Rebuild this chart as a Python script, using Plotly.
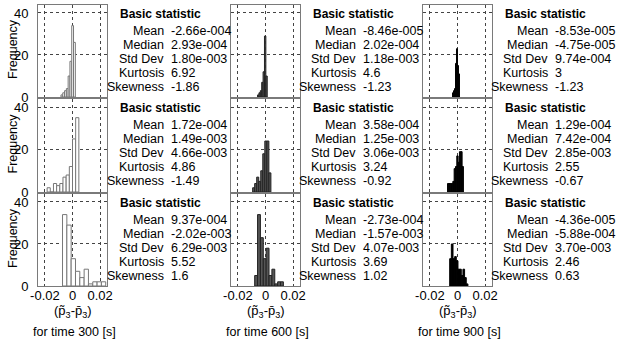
import plotly.graph_objects as go

W, H = 630, 349

# ---------------- data ----------------
times = [300, 600, 900]
stat_names = ["Mean", "Median", "Std Dev", "Kurtosis", "Skewness"]

# column 1 (t = 300 s)
c1r1_x = [-0.0077, -0.0064, -0.0051, -0.0038, -0.0025, -0.0012, 0.0001, 0.0014]
c1r1_n = [1, 2, 3, 4, 10, 17, 34, 26]
c1r1_w = 0.0013
c1r2_x = [-0.01725, -0.01495, -0.01265, -0.01035, -0.00805, -0.00575, -0.00345, -0.00115, 0.00115, 0.00345]
c1r2_n = [2, 0, 4, 3, 4, 7, 8, 12, 25, 35]
c1r2_w = 0.0023
c1r3_x = [-0.00566, -0.00253, 0.0006, 0.00373, 0.00686, 0.00999, 0.01312, 0.01625, 0.01938, 0.02251]
c1r3_n = [34, 29, 13, 7, 4, 8, 1, 2, 2, 2]
c1r3_w = 0.00313

# column 2 (t = 600 s)
c2r1_x = [-0.00525, -0.00425, -0.00325, -0.00225, -0.00125, -0.00025, 0.00075]
c2r1_n = [1, 2, 3, 7, 12, 29, 10]
c2r1_w = 0.001
c2r2_x = [-0.00858, -0.00711, -0.00564, -0.00417, -0.0027, -0.00123, 0.00024, 0.00171, 0.00318]
c2r2_n = [2, 4, 7, 5, 10, 18, 24, 24, 9]
c2r2_w = 0.00147
c2r3_x = [-0.0068, -0.00472, -0.00264, -0.00056, 0.00152, 0.0036, 0.00568, 0.00776, 0.00984, 0.01192]
c2r3_n = [5, 34, 23, 13, 18, 5, 8, 1, 2, 2]
c2r3_w = 0.00208

# column 3 (t = 900 s)
c3r1_x = [-0.00325, -0.00253, -0.00181, -0.00109, -0.00037, 0.00035, 0.00107]
c3r1_n = [2, 3, 4, 16, 23, 15, 11]
c3r1_w = 0.00072
c3r2_x = [-0.00675, -0.00579, -0.00483, -0.00387, -0.00291, -0.00195, -0.00099, -0.00003, 0.00093, 0.00189, 0.00285, 0.00381]
c3r2_n = [4, 4, 4, 4, 5, 11, 12, 17, 14, 19, 19, 12]
c3r2_w = 0.00096
c3r3_x = [-0.00506, -0.00386, -0.00266, -0.00146, -0.00026, 0.00094, 0.00214, 0.00334, 0.00454, 0.00574, 0.00694]
c3r3_n = [13, 20, 13, 14, 12, 8, 8, 5, 8, 4, 1]
c3r3_w = 0.0012

stats = [
    [["-2.66e-004", "2.93e-004", "1.80e-003", "6.92", "-1.86"],
     ["1.72e-004", "1.49e-003", "4.66e-003", "4.86", "-1.49"],
     ["9.37e-004", "-2.02e-003", "6.29e-003", "5.52", "1.6"]],
    [["-8.46e-005", "2.02e-004", "1.18e-003", "4.6", "-1.23"],
     ["3.58e-004", "1.25e-003", "3.06e-003", "3.24", "-0.92"],
     ["-2.73e-004", "-1.57e-003", "4.07e-003", "3.69", "1.02"]],
    [["-8.53e-005", "-4.75e-005", "9.74e-004", "3", "-1.23"],
     ["1.29e-004", "7.42e-004", "2.85e-003", "2.55", "-0.67"],
     ["-4.36e-005", "-5.88e-004", "3.70e-003", "2.46", "0.63"]],
]

hist = [
    [(c1r1_x, c1r1_n, c1r1_w), (c1r2_x, c1r2_n, c1r2_w), (c1r3_x, c1r3_n, c1r3_w)],
    [(c2r1_x, c2r1_n, c2r1_w), (c2r2_x, c2r2_n, c2r2_w), (c2r3_x, c2r3_n, c2r3_w)],
    [(c3r1_x, c3r1_n, c3r1_w), (c3r2_x, c3r2_n, c3r2_w), (c3r3_x, c3r3_n, c3r3_w)],
]

x_ticks = [-0.02, 0, 0.02]
x_ticktext = ["-0.02", "0", "0.02"]
y_ticks = [0, 20, 40]
y_ticktext = ["0", "20", "40"]

# ---------------- style / layout ----------------
FONT = "Liberation Sans, Arial, sans-serif"
TXT = "#000000"
fills = ["#ffffff", "#555555", "#000000"]
edges = ["#777777", "#222222", "#000000"]

col_l = [38, 231, 423]
col_r = [107, 300, 492]
row_t = [5, 99, 194]
row_b = [97, 192, 286]
head_x = [118, 311, 503]
lab_r = [166, 358, 550]

def px(x):
    return x / W

def py(y):
    return 1 - y / H

fig = go.Figure()
layout = dict(
    width=W, height=H, margin=dict(l=0, r=0, t=0, b=0, pad=0, autoexpand=False),
    paper_bgcolor="white", plot_bgcolor="white", showlegend=False,
    font=dict(family=FONT, color=TXT, size=13),
)
annotations = []

idx = 0
for c in range(3):
    for r in range(3):
        idx += 1
        xs, ns, w = hist[c][r]
        xa = "x" if idx == 1 else f"x{idx}"
        ya = "y" if idx == 1 else f"y{idx}"
        fig.add_trace(go.Bar(
            x=xs, y=ns, width=w, xaxis=xa, yaxis=ya,
            marker=dict(color=fills[c], line=dict(color=edges[c], width=1)),
            hoverinfo="skip",
        ))
        common = dict(showgrid=True, gridcolor="#444444", griddash="dot", gridwidth=1,
                      zeroline=False, showline=True, mirror=True, linecolor="#7a7a7a",
                      linewidth=1, ticks="", automargin=False,
                      tickfont=dict(size=13, color=TXT, family=FONT))
        layout["xaxis" if idx == 1 else f"xaxis{idx}"] = dict(
            domain=[px(col_l[c]), px(col_r[c])], range=[-0.025, 0.025],
            tickvals=x_ticks, ticktext=x_ticktext, showticklabels=(r == 2),
            ticklabelstandoff=-3, anchor=ya, **common)
        layout["yaxis" if idx == 1 else f"yaxis{idx}"] = dict(
            domain=[py(row_b[r]), py(row_t[r])], range=[0, 43.8],
            tickvals=y_ticks, ticktext=y_ticktext, showticklabels=(c == 0),
            ticklabelstandoff=6, anchor=xa, **common)

        # statistics text block
        hy = row_t[r] + 9
        annotations.append(dict(
            x=px(head_x[c]), y=py(hy), xref="paper", yref="paper",
            xanchor="left", yanchor="middle", showarrow=False,
            text="<b>Basic statistic</b>", font=dict(size=12, family=FONT, color=TXT)))
        for k, name in enumerate(stat_names):
            ly = hy + 17 + 14 * k
            annotations.append(dict(
                x=px(lab_r[c]), y=py(ly), xref="paper", yref="paper",
                xanchor="right", yanchor="middle", showarrow=False,
                text=name, font=dict(size=12.5, family=FONT, color=TXT)))
            annotations.append(dict(
                x=px(lab_r[c] + 3), y=py(ly), xref="paper", yref="paper",
                xanchor="left", yanchor="middle", showarrow=False,
                text=stats[c][r][k], font=dict(size=12.5, family=FONT, color=TXT)))

    # x-axis title and time caption
    cx = (col_l[c] + col_r[c]) / 2
    annotations.append(dict(
        x=px(cx), y=py(311), xref="paper", yref="paper",
        xanchor="center", yanchor="middle", showarrow=False,
        text="(p\u0303<sub>3</sub>-p\u0304<sub>3</sub>)",
        font=dict(size=13, family=FONT, color=TXT)))
    annotations.append(dict(
        x=px(cx + 2), y=py(332), xref="paper", yref="paper",
        xanchor="center", yanchor="middle", showarrow=False,
        text=f"for time {times[c]} [s]",
        font=dict(size=12.5, family=FONT, color=TXT)))

for r in range(3):
    annotations.append(dict(
        x=px(13), y=py((row_t[r] + row_b[r]) / 2 - 2), xref="paper", yref="paper",
        xanchor="center", yanchor="middle", showarrow=False, textangle=-90,
        text="Frequency", font=dict(size=12.5, family=FONT, color=TXT)))

layout["annotations"] = annotations
fig.update_layout(**layout)
fig.write_html("out.html")
